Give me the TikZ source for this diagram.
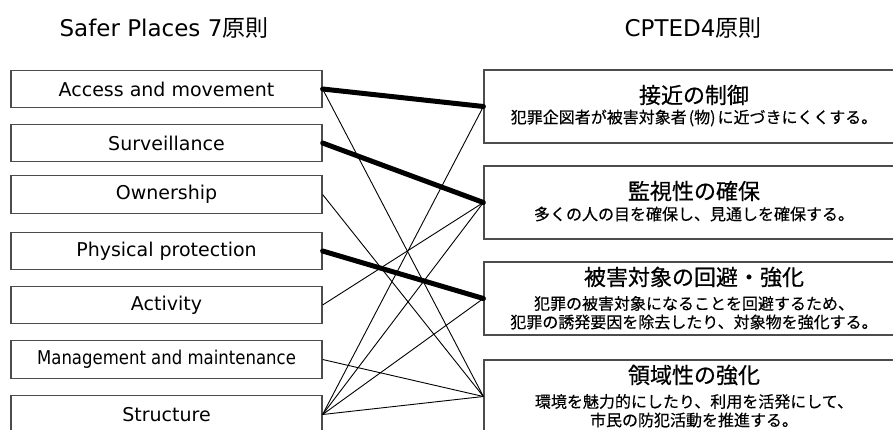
\documentclass[tikz,border=0pt]{standalone}
\usepackage{fontspec}
\usepackage{graphicx}
\setmainfont{DejaVu Sans}
\newfontfamily\jp{Noto Sans CJK JP}
\newfontfamily\jpt{Noto Sans CJK JP}[FakeBold=0.6]
\newfontfamily\jps{Noto Sans CJK JP}[FakeBold=0.35]
\definecolor{boxgray}{gray}{0.3}
\begin{document}
\begin{tikzpicture}[x=1pt,y=-1pt,
  head/.style={inner sep=0pt, font=\fontsize{23}{23}\selectfont},
  lbox/.style={draw=boxgray, line width=1.2pt, minimum width=311pt, minimum height=37.5pt, inner sep=0pt, font=\fontsize{19}{19}\selectfont},
  rbox/.style={draw=boxgray, line width=1.2pt, minimum width=421pt, minimum height=73pt, inner sep=0pt},
  ttl/.style={inner sep=0pt, font=\jpt\fontsize{22}{22}\selectfont},
  sub/.style={inner sep=0pt, font=\jps\fontsize{16}{16}\selectfont},
  strong/.style={line width=5pt, line cap=round},
  weak/.style={line width=0.9pt}]
\useasboundingbox (0,0) rectangle (893,430);
\clip (0,0) rectangle (893,430);

% headings
\node[head] (h1) at (164,28) {Safer Places 7{\jp 原則}};
\node[head] (h2) at (693,28) {CPTED4{\jp 原則}};

% left boxes
\node[lbox] (l1) at (166.5,89) {Access and movement};
\node[lbox] (l2) at (166.5,143) {Surveillance};
\node[lbox] (l3) at (166.5,194.5) {Ownership};
\node[lbox] (l4) at (166.5,251) {Physical protection};
\node[lbox] (l5) at (166.5,305) {Activity};
\node[lbox] (l6) at (166.5,359.5) {\scalebox{0.87}[1]{Management and maintenance}};
\node[lbox] (l7) at (166.5,414.5) {Structure};

% right boxes
\node[rbox] (r1) at (694.5,106.5) {};
\node[rbox] (r2) at (694.5,202.5) {};
\node[rbox] (r3) at (694.5,298.5) {};
\node[rbox] (r4) at (694.5,396.5) {};

\node[ttl] (r1t) at (694,95) {接近の制御};
\node[sub] (r1s) at (694,118) {犯罪企図者が被害対象者\kern2pt(物)\kern2pt に近づきにくくする。};
\node[ttl] (r2t) at (694,191) {監視性の確保};
\node[sub] (r2s) at (694,214) {多くの人の目を確保し、見通しを確保する。};
\node[ttl] (r3t) at (694,277) {被害対象の回避・強化};
\node[sub] (r3a) at (694,303.5) {犯罪の被害対象になることを回避するため、};
\node[sub] (r3b) at (694,322) {犯罪の誘発要因を除去したり、対象物を強化する。};
\node[ttl] (r4t) at (694,375) {領域性の強化};
\node[sub] (r4a) at (694,401.5) {環境を魅力的にしたり、利用を活発にして、};
\node[sub] (r4b) at (694,420) {市民の防犯活動を推進する。};

% connectors
\draw[weak] (l1.east) -- (r4.west);
\draw[weak] (l3.east) -- (r4.west);
\draw[weak] (l5.east) -- (r2.west);
\draw[weak] (l6.east) -- (r4.west);
\draw[weak] (l7.east) -- (r1.west);
\draw[weak] (l7.east) -- (r2.west);
\draw[weak] (l7.east) -- (r3.west);
\draw[weak] (l7.east) -- (r4.west);
\draw[strong] (l1.east) -- (r1.west);
\draw[strong] (l2.east) -- (r2.west);
\draw[strong] (l4.east) -- (r3.west);
\end{tikzpicture}
\end{document}
